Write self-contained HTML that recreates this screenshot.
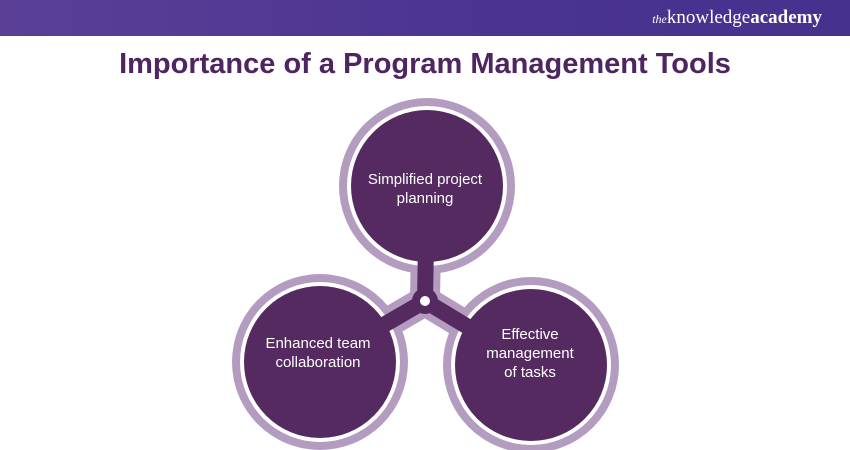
<!DOCTYPE html>
<html><head><meta charset="utf-8"><style>
body{margin:0;width:850px;height:450px;background:#fff;overflow:hidden;font-family:"Liberation Sans",sans-serif;position:relative}
.bar{position:absolute;left:0;top:0;width:850px;height:36px;background:linear-gradient(90deg,#5a3f97,#4a3490 60%,#46318e)}
.logo{position:absolute;right:28px;top:7px;color:#fff;font-family:"Liberation Serif",serif;font-size:19px}
.logo i{font-size:12px}
h1{position:absolute;left:0;width:850px;top:48px;margin:0;text-align:center;font-size:29px;font-weight:bold;color:#4e2560;letter-spacing:0}
</style></head><body>
<div class="bar"></div>
<div class="logo"><i>the</i>knowledge<b>academy</b></div>
<h1>Importance of a Program Management Tools</h1>
<svg width="850" height="450" style="position:absolute;left:0;top:0" font-family="Liberation Sans, sans-serif">
<g stroke-linecap="round">
<line x1="425" y1="301" x2="427" y2="186" stroke="#b39cc0" stroke-width="30"/>
<line x1="425" y1="301" x2="320" y2="362" stroke="#b39cc0" stroke-width="30"/>
<line x1="425" y1="301" x2="531" y2="365" stroke="#b39cc0" stroke-width="30"/>
</g>
<circle cx="427" cy="186" r="88" fill="#b39cc0"/>
<circle cx="320" cy="362" r="88" fill="#b39cc0"/>
<circle cx="531" cy="365" r="88" fill="#b39cc0"/>
<circle cx="427" cy="186" r="80" fill="#fff"/>
<circle cx="320" cy="362" r="80" fill="#fff"/>
<circle cx="531" cy="365" r="80" fill="#fff"/>
<g stroke-linecap="round" stroke="#542a60" stroke-width="16">
<line x1="425" y1="301" x2="427" y2="186"/>
<line x1="425" y1="301" x2="320" y2="362"/>
<line x1="425" y1="301" x2="531" y2="365"/>
</g>
<circle cx="427" cy="186" r="76" fill="#542a60"/>
<circle cx="320" cy="362" r="76" fill="#542a60"/>
<circle cx="531" cy="365" r="76" fill="#542a60"/>
<circle cx="425" cy="301" r="13" fill="#542a60"/>
<circle cx="425" cy="301" r="5" fill="#fff"/>
<g fill="#fff" font-size="15" text-anchor="middle">
<text x="425" y="184">Simplified project</text>
<text x="425" y="203">planning</text>
<text x="318" y="348">Enhanced team</text>
<text x="318" y="367">collaboration</text>
<text x="530" y="339">Effective</text>
<text x="530" y="358">management</text>
<text x="530" y="377">of tasks</text>
</g>
</svg>
</body></html>
